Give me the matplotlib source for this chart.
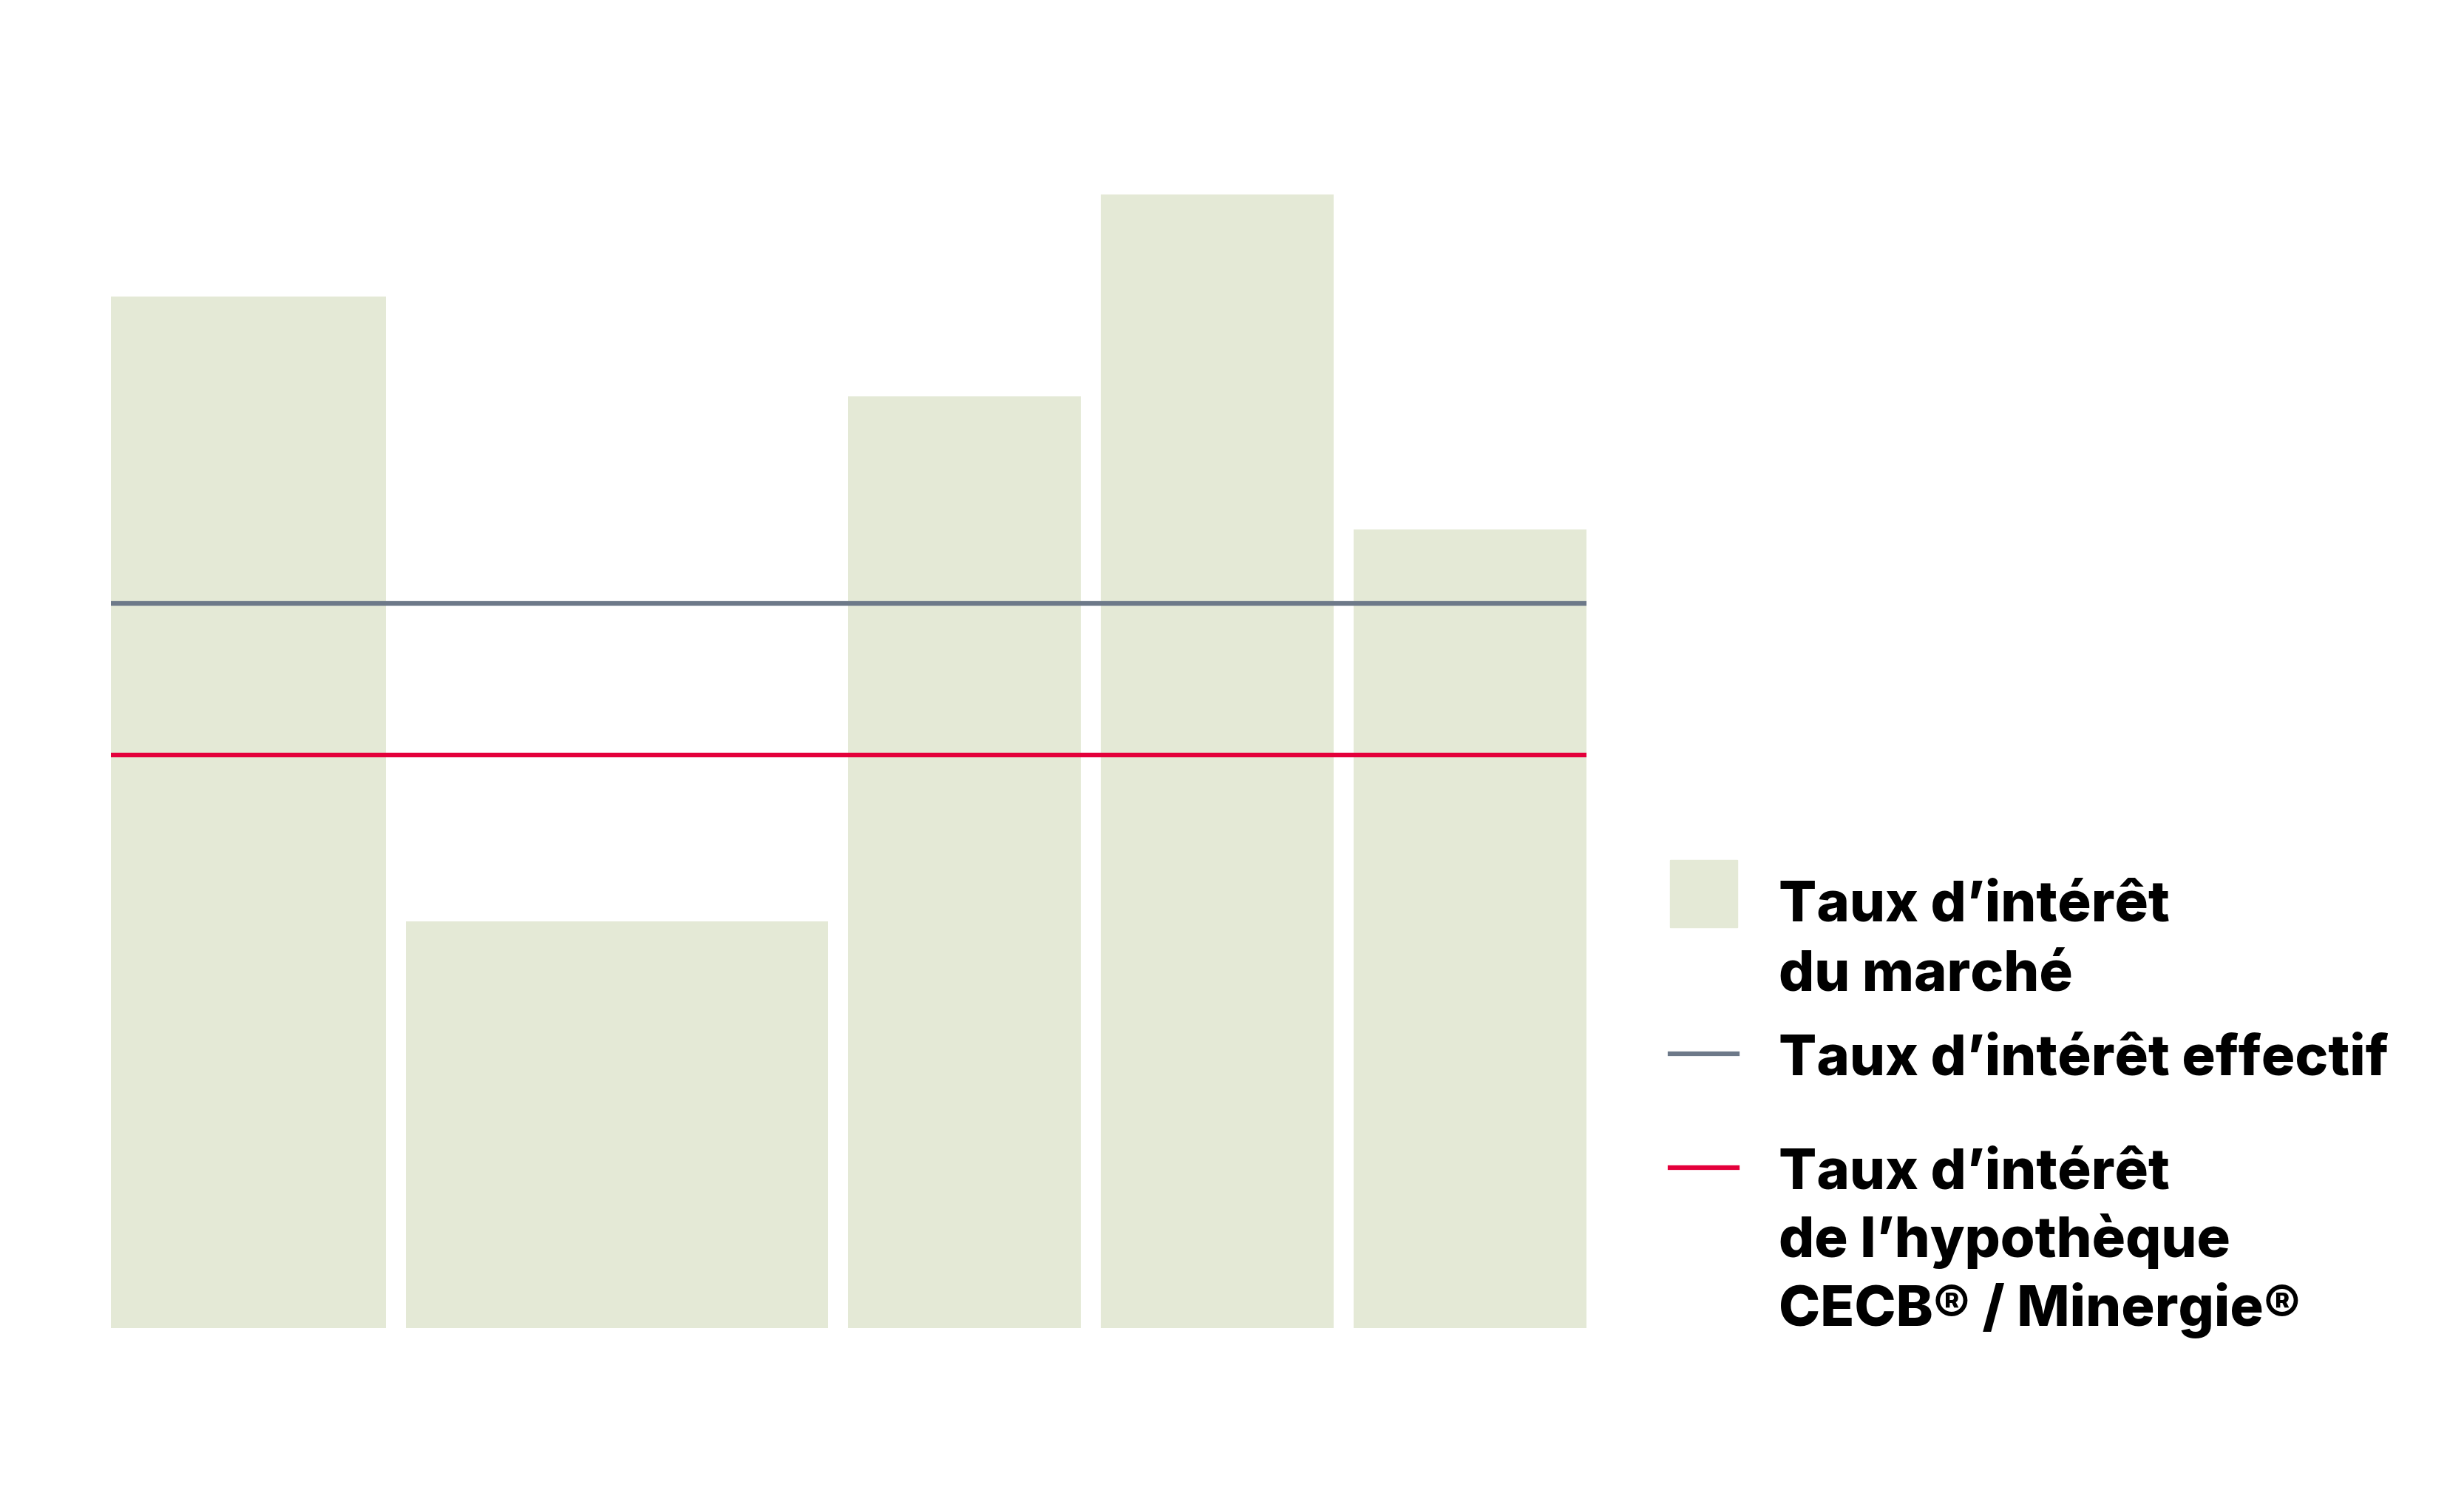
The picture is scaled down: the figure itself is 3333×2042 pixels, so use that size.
import matplotlib.pyplot as plt
from matplotlib.patches import Rectangle
from matplotlib.lines import Line2D

# durations of each period (bar widths) and market rate per period
periods = [7, 10.5, 6, 6, 6]
market_rate = [5.58, 2.20, 5.04, 6.13, 4.32]
effective_rate = 3.92
green_rate = 3.10

labels = ["Taux d’intérêt\ndu marché",
          "Taux d’intérêt effectif",
          "Taux d’intérêt\nde l’hypothèque\nCECB® / Minergie®"]

bar_color = "#E4E9D6"
gray = "#6D7989"
red = "#E4003B"
gap = 0.47

W, H = 3333, 2042
fig = plt.figure(figsize=(W / 100, H / 100), dpi=100)
ax = fig.add_axes([150 / W, 1 - 1796 / H, (2146 - 150) / W, 1750 / H])

# bars, edge aligned, with white gaps between periods
left = 0
for w, v in zip(periods, market_rate):
    ax.bar(left, v, width=w - gap, align="edge", color=bar_color, linewidth=0)
    left += w

xmax = sum(periods) - gap
ax.plot([0, xmax], [effective_rate, effective_rate], color=gray, lw=4.5, solid_capstyle="butt")
ax.plot([0, xmax], [green_rate, green_rate], color=red, lw=4.5, solid_capstyle="butt")

ax.set_xlim(0, xmax)
ax.set_ylim(0, 7)
ax.axis("off")

# legend drawn by hand
fx = lambda px: px / W
fy = lambda py: 1 - py / H
fig.patches.append(Rectangle((fx(2259), fy(1254)), fx(91), 91 / H, color=bar_color,
                             transform=fig.transFigure, figure=fig))
fig.lines.append(Line2D([fx(2259), fx(2350)], [fy(1425), fy(1425)], color=gray, lw=4.5,
                        transform=fig.transFigure, figure=fig))
fig.lines.append(Line2D([fx(2259), fx(2350)], [fy(1579), fy(1579)], color=red, lw=4.5,
                        transform=fig.transFigure, figure=fig))

baselines = [1246, 1454, 1607]
for lab, y0 in zip(labels, baselines):
    for i, line in enumerate(lab.split("\n")):
        fig.text(fx(2406), fy(y0 + i * 93), line, fontsize=54.5, fontweight="heavy",
                 family="Inter", va="baseline", ha="left", color="black")

fig.savefig("out.png", dpi=100, facecolor="white")
